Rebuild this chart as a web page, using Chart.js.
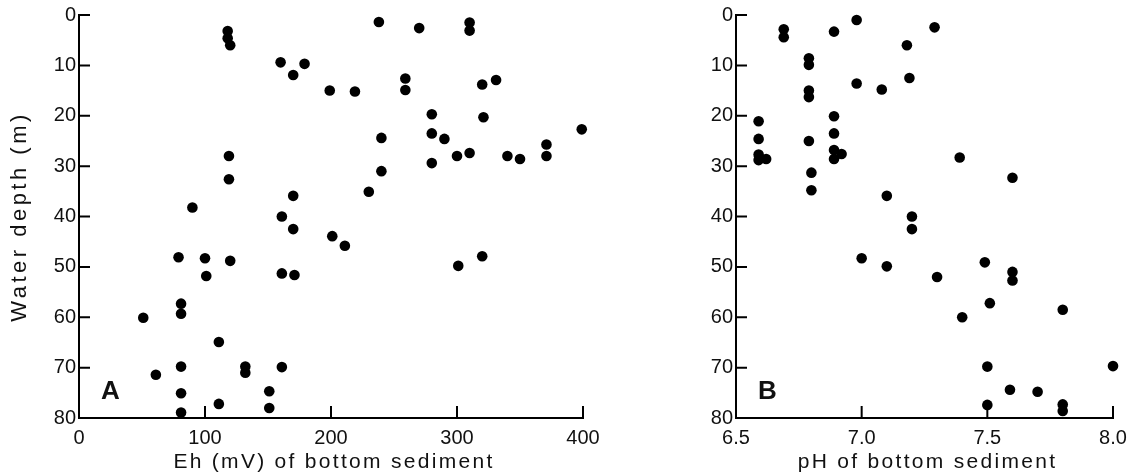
<!DOCTYPE html>
<html>
<head>
<meta charset="utf-8">
<script src="https://cdn.jsdelivr.net/npm/chart.js@4.4.0/dist/chart.umd.min.js"></script>
<style>
  body { margin: 0; background: #fff; }
  canvas { position: absolute; top: 0; }
</style>
</head>
<body>
<canvas id="eh-chart" width="620" height="476" style="left:0"></canvas>
<canvas id="ph-chart" width="521" height="476" style="left:620px"></canvas>
<script>
// Eh (mV) against depth
const ehMv = [118, 118, 120, 160, 170, 119, 119, 90, 161, 170, 170, 238, 270, 310, 310, 179, 199, 219, 259, 259,
  320, 331, 321, 280, 280, 290, 240, 240, 230, 280, 300, 310, 340, 350, 371, 371, 201, 211, 161, 171,
  301, 320, 161, 151, 151, 79, 100, 101, 120, 81, 81, 51, 111, 81, 61, 132, 132, 81, 81, 111, 399];
const ehDepth = [3.2, 4.6, 6.0, 9.4, 11.9, 28, 32.6, 38.2, 40, 35.9, 42.5, 1.4, 2.6, 1.5, 3.1, 9.7, 15.0, 15.2, 12.6, 14.9,
  13.8, 12.9, 20.3, 19.7, 23.5, 24.6, 24.4, 31.0, 35.1, 29.4, 28.0, 27.4, 28.0, 28.6, 25.7, 28.0, 43.9, 45.8, 51.3, 51.6,
  49.8, 47.9, 69.9, 74.7, 78.0, 48.1, 48.3, 51.8, 48.8, 57.3, 59.3, 60.1, 64.9, 69.8, 71.4, 69.8, 71.0, 75.1, 78.9, 77.2, 22.7];

// pH against depth
const phValue = [6.69, 6.69, 6.89, 6.98, 6.79, 6.79, 6.79, 6.79, 6.98, 6.59, 6.59, 6.59, 6.59, 6.62, 6.79, 6.80, 6.80,
  6.89, 6.89, 6.89, 6.89, 6.92, 7.29, 7.18, 7.08, 7.19, 7.39, 7.60, 7.10, 7.20, 7.20, 7.00, 7.10, 7.30,
  7.49, 7.60, 7.60, 7.51, 7.40, 7.80, 7.50, 8.00, 7.59, 7.70, 7.50, 7.80, 7.80];
const phDepth = [2.85, 4.4, 3.3, 1.0, 8.6, 9.9, 15.0, 16.3, 13.6, 21.1, 24.6, 27.7, 28.8, 28.6, 25.0, 31.3, 34.8,
  20.1, 23.5, 26.8, 28.6, 27.6, 2.45, 6.0, 14.8, 12.5, 28.3, 32.3, 35.9, 40.0, 42.5, 48.3, 49.9, 52.0,
  49.1, 51.0, 52.7, 57.2, 60.0, 58.5, 69.8, 69.7, 74.4, 74.8, 77.4, 77.3, 78.6];

const depthTicks = [0, 10, 20, 30, 40, 50, 60, 70, 80];
const ehTicks = [0, 100, 200, 300, 400];
const phTicks = [6.5, 7.0, 7.5, 8.0];

const FONT = '"Liberation Sans", Arial, sans-serif';

// short tick marks pointing into the plot, like the printed figure
const inwardTicks = {
  id: 'inwardTicks',
  afterDraw(chart) {
    const {ctx, chartArea: {left, bottom}} = chart;
    const xs = chart.scales.x, ys = chart.scales.y;
    ctx.save();
    ctx.strokeStyle = '#000';
    ctx.lineWidth = 2;
    ctx.beginPath();
    xs.ticks.forEach(t => {
      const px = xs.getPixelForValue(t.value);
      if (px - left < 2) return;
      ctx.moveTo(px, bottom);
      ctx.lineTo(px, bottom - 12);
    });
    ys.ticks.forEach(t => {
      const py = ys.getPixelForValue(t.value);
      if (bottom - py < 2) return;
      ctx.moveTo(left, py);
      ctx.lineTo(left + 11, py);
    });
    ctx.stroke();
    ctx.restore();
  }
};

// axis titles (letter-spaced) and the panel letter
const panelText = {
  id: 'panelText',
  afterDraw(chart, args, opts) {
    const {ctx, chartArea: {left, right, top, bottom}} = chart;
    ctx.save();
    ctx.fillStyle = '#111';
    ctx.textBaseline = 'alphabetic';

    ctx.font = 'bold 26px ' + FONT;
    ctx.textAlign = 'left';
    ctx.fillText(opts.letter, left + 22, bottom - 19);

    ctx.font = '21px ' + FONT;
    ctx.letterSpacing = '2.3px';
    ctx.textAlign = 'center';
    ctx.fillText(opts.xTitle, (left + right) / 2 + 3, bottom + 50);

    if (opts.yTitle) {
      ctx.font = '22px ' + FONT;
      ctx.letterSpacing = '3.5px';
      ctx.translate(opts.yTitleX, (top + bottom) / 2);
      ctx.rotate(-Math.PI / 2);
      ctx.textBaseline = 'middle';
      ctx.fillText(opts.yTitle, 0, 0);
    }
    ctx.restore();
  }
};

const makeChart = (id, xs, ys, xTicks, fmt, axisWidth, padRight, text) => {
  return new Chart(document.getElementById(id), {
    type: 'scatter',
    data: {
      datasets: [{
        data: xs.map((v, i) => ({x: v, y: ys[i]})),
        backgroundColor: '#000',
        borderWidth: 0,
        pointRadius: 5.3,
        pointHoverRadius: 5.3,
        clip: false
      }]
    },
    options: {
      responsive: false,
      animation: false,
      events: [],
      layout: {padding: {top: 15, right: padRight, bottom: 0, left: 0}},
      plugins: {
        legend: {display: false},
        tooltip: {enabled: false},
        panelText: text
      },
      scales: {
        x: {
          type: 'linear',
          min: xTicks[0],
          max: xTicks[xTicks.length - 1],
          grid: {display: false, drawTicks: false},
          border: {display: true, color: '#000', width: 2},
          afterBuildTicks: (scale) => { scale.ticks = xTicks.map(v => ({value: v})); },
          afterFit: (scale) => { scale.height = 58; },
          ticks: {
            color: '#111',
            padding: 8,
            maxRotation: 0,
            autoSkip: false,
            font: {family: FONT, size: 20},
            callback: fmt
          }
        },
        y: {
          type: 'linear',
          reverse: true,
          min: 0,
          max: 80,
          grid: {display: false, drawTicks: false},
          border: {display: true, color: '#000', width: 2},
          afterBuildTicks: (scale) => { scale.ticks = depthTicks.map(v => ({value: v})); },
          afterFit: (scale) => { scale.width = axisWidth; },
          ticks: {
            color: '#111',
            padding: 3,
            autoSkip: false,
            font: {family: FONT, size: 20}
          }
        }
      }
    },
    plugins: [inwardTicks, panelText]
  });
};

makeChart('eh-chart', ehMv, ehDepth, ehTicks, (v) => String(v), 79, 37,
  {letter: 'A', xTitle: 'Eh (mV) of bottom sediment', yTitle: 'Water depth (m)', yTitleX: 20});
makeChart('ph-chart', phValue, phDepth, phTicks, (v) => v.toFixed(1), 116, 28,
  {letter: 'B', xTitle: 'pH of bottom sediment'});
</script>
</body>
</html>
